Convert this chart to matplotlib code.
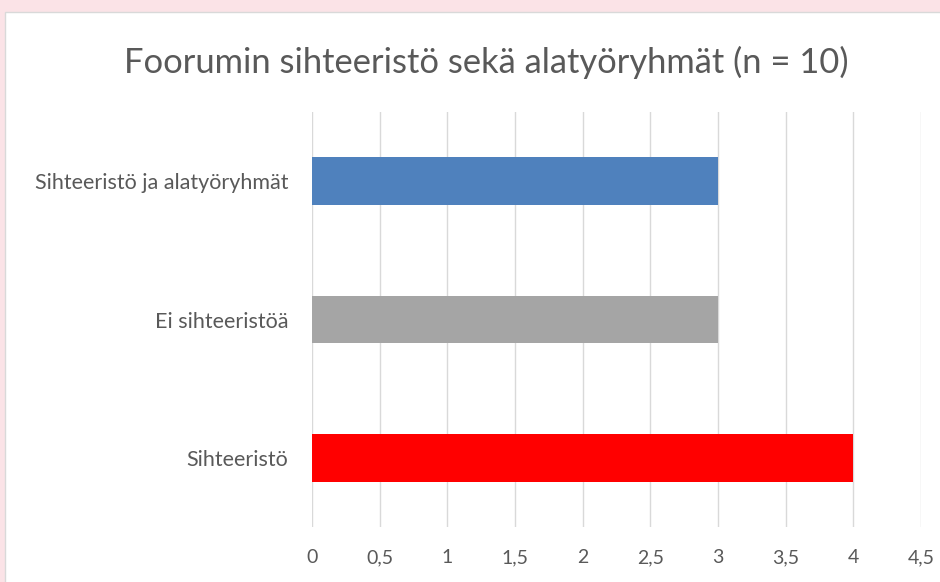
import matplotlib.pyplot as plt
from matplotlib.patches import Rectangle

# data (top to bottom as shown)
categories = ["Sihteeristö ja alatyöryhmät", "Ei sihteeristöä", "Sihteeristö"]
values = [3, 3, 4]
colors = ["#4F81BD", "#A5A5A5", "#FF0000"]
xticks = [0, 0.5, 1, 1.5, 2, 2.5, 3, 3.5, 4, 4.5]
title = "Foorumin sihteeristö sekä alatyöryhmät (n = 10)"

plt.rcParams['font.family'] = ['Lato', 'DejaVu Sans']
txt = "#595959"

fig = plt.figure(figsize=(9.4, 5.82), dpi=100)
fig.patch.set_facecolor("white")

# faint pink backdrop around the chart box (screenshot look)
W, H = 940, 582
fig.patches.append(Rectangle((0, 1 - 12 / H), 1, 12 / H, transform=fig.transFigure,
                             facecolor="#FBE3E7", edgecolor="none", zorder=0))
fig.patches.append(Rectangle((0, 0), 5 / W, 1, transform=fig.transFigure,
                             facecolor="#FBE3E7", edgecolor="none", zorder=0))
# chart box border
fig.patches.append(Rectangle((5 / W, -0.01), 1, 1 - 12 / H + 0.01, transform=fig.transFigure,
                             facecolor="white", edgecolor="#D9D9D9", linewidth=1, zorder=1))

ax = fig.add_axes([312 / W, 55 / H, (921 - 312) / W, (470 - 55) / H])
ax.set_zorder(2)
ax.set_facecolor("none")

ypos = list(range(len(categories)))[::-1]
ax.barh(ypos, values, height=0.345, color=colors, zorder=3)

ax.set_xlim(0, 4.5)
ax.set_ylim(-0.5, len(categories) - 0.5)
ax.set_xticks(xticks)
ax.set_xticklabels([f"{t:g}".replace(".", ",") for t in xticks])
ax.set_yticks(ypos)
ax.set_yticklabels(categories)

ax.grid(axis="x", color="#D9D9D9", linewidth=1, zorder=0)
for s in ax.spines.values():
    s.set_visible(False)
ax.tick_params(axis="x", length=0, pad=16, labelsize=14, labelcolor=txt)
ax.tick_params(axis="y", length=0, pad=17, labelsize=15.5, labelcolor=txt)

t = fig.text(486 / W, 1 - 62 / H, title, ha="center", va="center",
             fontsize=24.8, color=txt)
t.set_zorder(3)

fig.savefig("out.png", dpi=100)
